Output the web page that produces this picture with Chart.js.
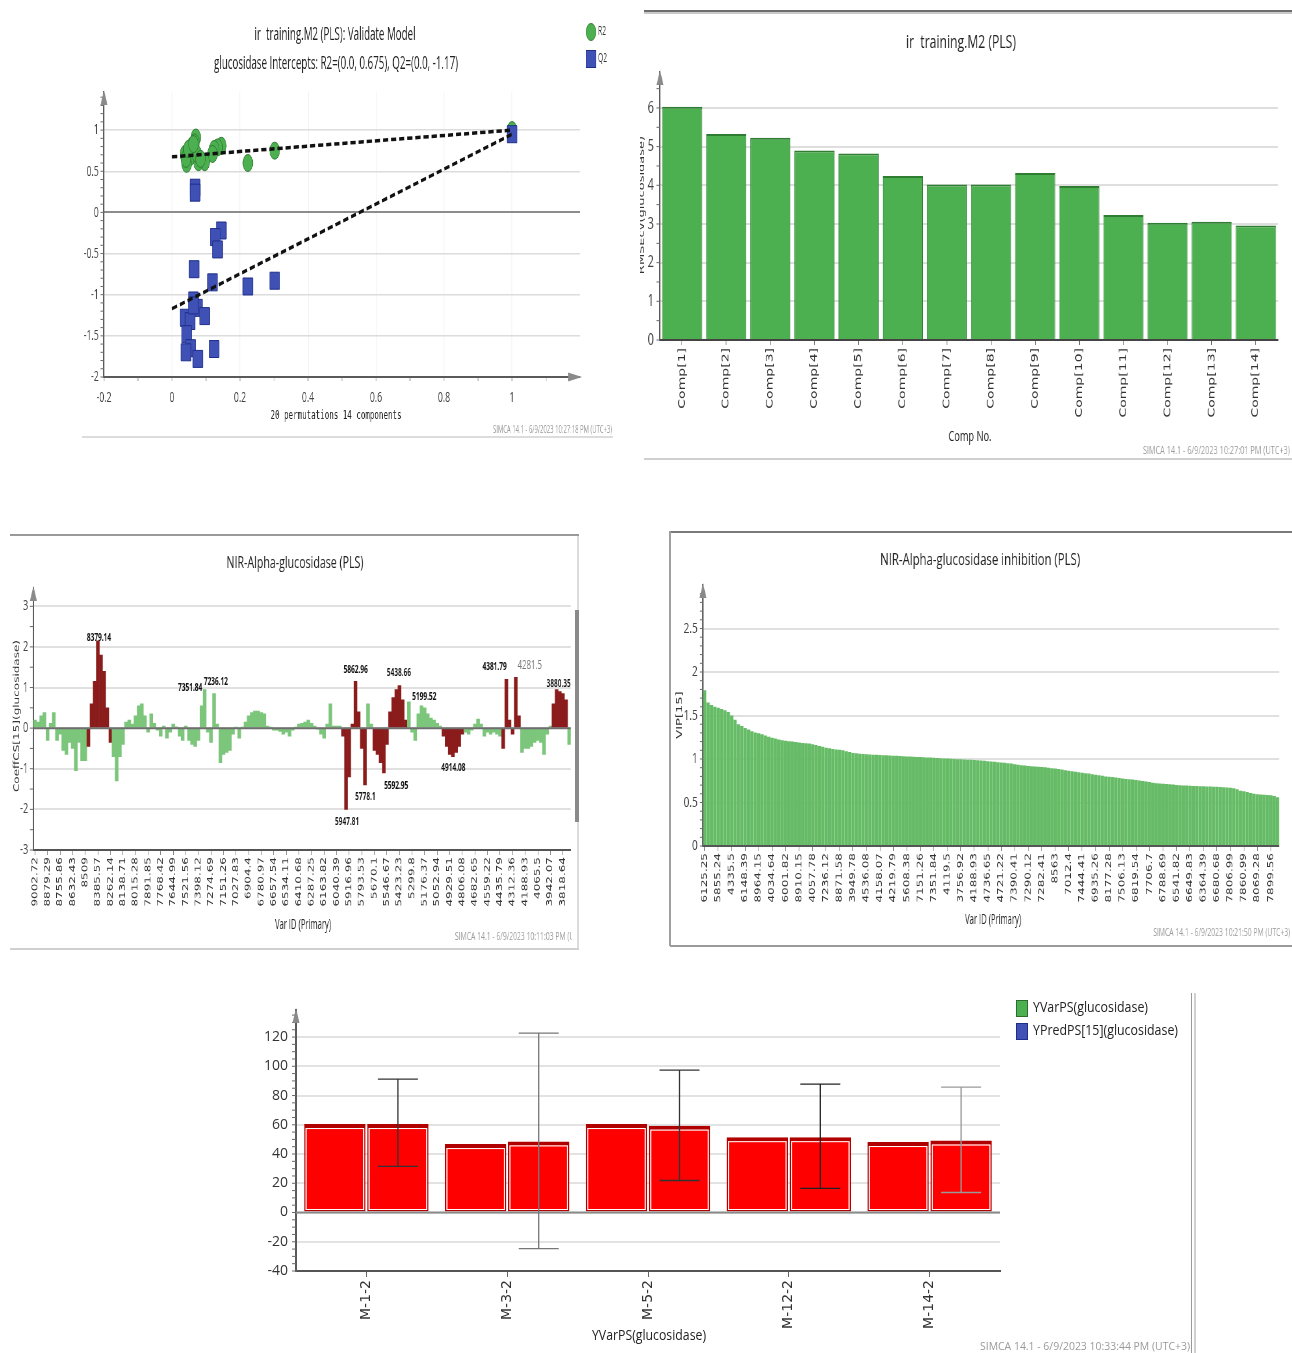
<!DOCTYPE html>
<html>
<head>
<meta charset="utf-8">
<title>PLS model diagnostics – glucosidase</title>
<script src="https://cdn.jsdelivr.net/npm/chart.js@4.4.1/dist/chart.umd.min.js"></script>
<style>
  html, body { margin: 0; padding: 0; background: #fff; }
  body { position: relative; width: 1292px; height: 1353px; overflow: hidden; }
  canvas { position: absolute; display: block; }
  .rule { position: absolute; }
</style>
</head>
<body>
<!-- window frame rules around each exported plot -->
<div class="rule" style="left:82px;top:436px;width:531px;height:2px;background:#dcdcdc"></div>
<div class="rule" style="left:644px;top:10px;width:648px;height:2px;background:#6d6d6d"></div>
<div class="rule" style="left:644px;top:12px;width:648px;height:2px;background:#c9c9c9"></div>
<div class="rule" style="left:644px;top:458px;width:648px;height:2px;background:#d0d0d0"></div>
<div class="rule" style="left:10px;top:534px;width:569px;height:2px;background:#9a9a9a"></div>
<div class="rule" style="left:577px;top:536px;width:2px;height:414px;background:#dcdcdc"></div>
<div class="rule" style="left:575px;top:610px;width:4px;height:212px;background:#8a8a8a"></div>
<div class="rule" style="left:10px;top:948px;width:569px;height:2px;background:#d0d0d0"></div>
<div class="rule" style="left:670px;top:531px;width:622px;height:2px;background:#7a7a7a"></div>
<div class="rule" style="left:669px;top:531px;width:2px;height:415px;background:#a0a0a0"></div>
<div class="rule" style="left:670px;top:945px;width:622px;height:2px;background:#9a9a9a"></div>
<div class="rule" style="left:1191px;top:993px;width:1px;height:360px;background:#9a9a9a"></div>
<div class="rule" style="left:1194px;top:993px;width:2px;height:360px;background:#d0d0d0"></div>

<canvas id="permChart"></canvas>
<canvas id="rmseChart"></canvas>
<canvas id="coeffChart"></canvas>
<canvas id="vipChart"></canvas>
<canvas id="ypredChart"></canvas>

<script>
// ---------------- permutation test (Validate Model) ----------------
const r2PermCorr = [1.0, 0.302, 0.223, 0.145, 0.134, 0.124, 0.119, 0.096, 0.070, 0.066, 0.063, 0.058, 0.053, 0.078, 0.038, 0.043, 0.041, 0.073, 0.048, 0.084, 0.063];
const r2PermVal  = [1.00, 0.75, 0.60, 0.81, 0.79, 0.77, 0.71, 0.61, 0.91, 0.85, 0.75, 0.81, 0.67, 0.61, 0.71, 0.59, 0.65, 0.71, 0.77, 0.65, 0.83];
const q2PermCorr = [1.0, 0.068, 0.068, 0.145, 0.127, 0.134, 0.065, 0.119, 0.223, 0.302, 0.063, 0.075, 0.096, 0.038, 0.053, 0.043, 0.055, 0.041, 0.076, 0.124, 0.063];
const q2PermVal  = [0.95, 0.30, 0.24, -0.22, -0.30, -0.45, -0.69, -0.85, -0.90, -0.83, -1.07, -1.16, -1.26, -1.28, -1.32, -1.48, -1.65, -1.70, -1.78, -1.66, -1.13];
const r2Intercept = 0.675;
const q2Intercept = -1.17;

// ---------------- RMSEcv per component ----------------
const compLabels = ['Comp[1]', 'Comp[2]', 'Comp[3]', 'Comp[4]', 'Comp[5]', 'Comp[6]', 'Comp[7]',
                    'Comp[8]', 'Comp[9]', 'Comp[10]', 'Comp[11]', 'Comp[12]', 'Comp[13]', 'Comp[14]'];
const rmsecv = [6.03, 5.33, 5.23, 4.90, 4.82, 4.24, 4.02, 4.02, 4.32, 3.98, 3.23, 3.03, 3.06, 2.96];

// ---------------- PLS coefficients over the NIR range ----------------
const coeffTicks = ['9002.72', '8879.29', '8755.86', '8632.43', '8509', '8385.57', '8262.14', '8138.71',
  '8015.28', '7891.85', '7768.42', '7644.99', '7521.56', '7398.12', '7274.69', '7151.26', '7027.83',
  '6904.4', '6780.97', '6657.54', '6534.11', '6410.68', '6287.25', '6163.82', '6040.39', '5916.96',
  '5793.53', '5670.1', '5546.67', '5423.23', '5299.8', '5176.37', '5052.94', '4929.51', '4806.08',
  '4682.65', '4559.22', '4435.79', '4312.36', '4188.93', '4065.5', '3942.07', '3818.64'];
const coeffValues = [
  0.2, 0.15, 0.3, 0.38, -0.3, 0.12, 0.38, -0.3, -0.15, -0.55,
  -0.65, -0.35, -0.5, -1.05, -0.35, -0.8, -0.8, -0.45, 0.6, 1.15,
  2.15, 1.8, 1.4, 0.5, -0.35, -0.7, -1.3, -0.7, -0.4, 0.15,
  0.2, 0.1, 0.3, 0.55, 0.6, 0.3, -0.1, 0.35, 0.12, -0.05,
  -0.2, 0.05, -0.25, -0.1, 0.1, 0.03, -0.2, -0.3, 0.05, -0.3,
  -0.4, -0.45, -0.3, 0.55, 0.95, -0.1, -0.35, 0.85, 0.1, -0.85,
  -0.65, -0.6, -0.55, -0.15, 0.02, -0.25, 0.02, 0.15, 0.3, 0.38,
  0.42, 0.42, 0.38, 0.35, 0.05, 0.02, -0.05, -0.05, -0.08, -0.15,
  -0.1, -0.2, -0.05, 0.02, 0.1, 0.12, 0.15, 0.2, 0.12, 0.05,
  -0.02, -0.15, -0.25, 0.1, 0.6, 0.05, 0.05, 0.05, -0.2, -2.0,
  -1.2, 0.1, 1.15, 0.4, -0.5, -1.4, 0.6, 0.1, -0.55, -0.65,
  -0.85, -1.1, -0.4, 0.4, 0.75, 0.95, 1.05, 0.7, 0.2, 0.65,
  -0.1, -0.3, 0.35, 0.55, 0.5, 0.35, 0.25, 0.2, 0.12, 0.05,
  -0.2, -0.45, -0.65, -0.7, -0.6, -0.45, -0.15, -0.1, -0.15, -0.05,
  0.1, 0.22, 0.1, -0.2, -0.1, -0.15, -0.1, -0.15, -0.2, -0.5,
  1.2, 0.2, -0.15, 1.25, 0.3, -0.6, -0.5, -0.5, -0.45, -0.35,
  -0.3, -0.35, -0.65, -0.15, 0.05, 0.6, 0.95, 0.9, 0.85, 0.7,
  -0.4];
// wavenumber bands (high, low) flagged as significant
const signifBands = [[8480, 8260], [5980, 5760], [5672, 5360], [4992, 4805], [4406, 4249], [3912, 3787]];
// labelled variables
const coeffPeakIds = ['8379.14', '7351.84', '7236.12', '5947.81', '5862.96', '5778.1', '5592.95',
                      '5438.66', '5199.52', '4914.08', '4381.79', '4281.5', '3880.35'];

// ---------------- VIP (sorted) ----------------
const vipTicks = ['6125.25', '5855.24', '4335.5', '6148.39', '8964.15', '4034.64', '6001.82', '8910.15',
  '4057.78', '7236.12', '8871.58', '3949.78', '4536.08', '4158.07', '4219.79', '5608.38', '7151.26',
  '7351.84', '4119.5', '3756.92', '4188.93', '4736.65', '4721.22', '7390.41', '7290.12', '7282.41',
  '8563', '7012.4', '7444.41', '6935.26', '8177.28', '7506.13', '6819.54', '7706.7', '6788.69',
  '6541.82', '6649.83', '6364.39', '6680.68', '7806.99', '7860.99', '8069.28', '7899.56'];
const vipValues = [
  1.79, 1.65, 1.62, 1.60, 1.59, 1.575, 1.56, 1.54, 1.50, 1.45,
  1.40, 1.38, 1.355, 1.34, 1.32, 1.305, 1.295, 1.285, 1.27, 1.255,
  1.245, 1.235, 1.225, 1.215, 1.21, 1.205, 1.20, 1.195, 1.19, 1.185,
  1.18, 1.178, 1.17, 1.16, 1.15, 1.14, 1.13, 1.125, 1.115, 1.11,
  1.105, 1.10, 1.09, 1.08, 1.07, 1.065, 1.06, 1.058, 1.055, 1.052,
  1.05, 1.048, 1.046, 1.044, 1.042, 1.04, 1.038, 1.036, 1.034, 1.032,
  1.03, 1.028, 1.026, 1.024, 1.022, 1.02, 1.018, 1.016, 1.014, 1.012,
  1.01, 1.007, 1.005, 1.003, 1.0, 0.998, 0.996, 0.994, 0.992, 0.99,
  0.988, 0.986, 0.983, 0.979, 0.975, 0.971, 0.967, 0.963, 0.96, 0.957,
  0.952, 0.947, 0.94, 0.933, 0.928, 0.925, 0.92, 0.917, 0.914, 0.912,
  0.909, 0.905, 0.90, 0.895, 0.89, 0.885, 0.878, 0.872, 0.866, 0.86,
  0.853, 0.847, 0.842, 0.837, 0.832, 0.826, 0.82, 0.814, 0.808, 0.80,
  0.796, 0.792, 0.787, 0.782, 0.776, 0.771, 0.767, 0.763, 0.758, 0.753,
  0.747, 0.741, 0.735, 0.727, 0.722, 0.718, 0.715, 0.712, 0.709, 0.706,
  0.702, 0.699, 0.696, 0.694, 0.692, 0.69, 0.689, 0.687, 0.686, 0.685,
  0.684, 0.682, 0.68, 0.678, 0.676, 0.673, 0.67, 0.665, 0.652, 0.635,
  0.628, 0.62, 0.608, 0.60, 0.596, 0.593, 0.59, 0.587, 0.583, 0.576,
  0.56];

// ---------------- observed vs predicted per sample ----------------
const sampleIds = ['M-1-2', 'M-3-2', 'M-5-2', 'M-12-2', 'M-14-2'];
const yVarPS  = [60.5, 46.8, 60.5, 51.5, 48.2];
const yPredPS = [60.5, 48.6, 59.4, 51.5, 49.2];
const yPredLow  = [31.5, -24.7, 21.9, 16.5, 13.7];
const yPredHigh = [91.2, 122.7, 97.4, 87.8, 85.7];

// ================= drawing helpers =================
const FT = '"Open Sans","Noto Sans",sans-serif';
const FV = '"DejaVu Sans",sans-serif';
const FM = '"DejaVu Sans Mono",monospace';

Chart.defaults.font.family = FT;
Chart.defaults.color = '#333';
Chart.defaults.animation = false;
Chart.defaults.events = [];
Chart.defaults.responsive = false;
Chart.defaults.plugins.legend.display = false;
Chart.defaults.plugins.tooltip.enabled = false;

const fmt = v => String(Math.round(v * 100) / 100);

// canvas is drawn at a wider bitmap and shown condensed horizontally (factor s)
function prepCanvas(id, f) {
  const c = document.getElementById(id);
  c.width = Math.round(f.w / f.s);
  c.height = f.h;
  c.style.left = f.left + 'px';
  c.style.top = f.top + 'px';
  c.style.width = f.w + 'px';
  c.style.height = f.h + 'px';
  return c;
}
// layout numbers that pin the plot area to page coordinates
function frameLayout(f, a) {
  const W = Math.round(f.w / f.s);
  const lx = x => (x - f.left) / f.s;
  return {
    padding: { left: 0, top: a.t - f.top, right: W - lx(a.r), bottom: 0 },
    yFit: sc => { sc.width = lx(a.l); },
    xFit: sc => { sc.height = f.top + f.h - a.b; }
  };
}
function makeDecor(cfg) {
  const f = cfg.frame;
  const X = x => (x - f.left) / f.s;
  const Y = y => y - f.top;
  return {
    id: 'decor',
    afterDatasetsDraw(chart) {
      const { ctx, chartArea: a } = chart;
      ctx.save();
      if (cfg.zeroLine) {
        const y0 = chart.scales.y.getPixelForValue(0);
        ctx.strokeStyle = cfg.zeroLine.color;
        ctx.lineWidth = cfg.zeroLine.width;
        ctx.beginPath(); ctx.moveTo(a.left, y0); ctx.lineTo(a.right, y0); ctx.stroke();
      }
      if (cfg.overData) cfg.overData(chart, ctx, X, Y);
      ctx.restore();
    },
    afterDraw(chart) {
      const { ctx, chartArea: a } = chart;
      ctx.save();
      (cfg.minor || []).forEach(m => {
        const sc = chart.scales[m.axis];
        ctx.strokeStyle = m.color || '#6a6a6a';
        ctx.lineWidth = m.width || 1;
        const n = Math.round((m.to - m.from) / m.step);
        for (let i = 0; i <= n; i++) {
          const p = sc.getPixelForValue(m.from + i * m.step);
          ctx.beginPath();
          if (m.axis === 'y') { ctx.moveTo(a.left, p); ctx.lineTo(a.left - m.len / f.s, p); }
          else { ctx.moveTo(p, a.bottom); ctx.lineTo(p, a.bottom + m.len); }
          ctx.stroke();
        }
      });
      ctx.fillStyle = '#8a8a8a';
      (cfg.arrows || []).forEach(dir => {
        ctx.beginPath();
        if (dir === 'y') {
          ctx.moveTo(a.left, a.top - 2);
          ctx.lineTo(a.left - 3.5 / f.s, a.top + 13);
          ctx.lineTo(a.left + 3.5 / f.s, a.top + 13);
        } else {
          ctx.moveTo(a.right + 2 / f.s, a.bottom);
          ctx.lineTo(a.right - 12 / f.s, a.bottom - 4.5);
          ctx.lineTo(a.right - 12 / f.s, a.bottom + 4.5);
        }
        ctx.closePath(); ctx.fill();
      });
      (cfg.texts || []).forEach(t => {
        ctx.save();
        if (t.clipX !== undefined) {
          ctx.beginPath(); ctx.rect(0, 0, X(t.clipX), chart.height); ctx.clip();
        }
        ctx.font = `${t.weight || 'normal'} ${t.size}px ${t.family || FT}`;
        ctx.fillStyle = t.color || '#222';
        ctx.textAlign = t.align || 'center';
        ctx.textBaseline = 'middle';
        ctx.translate(X(t.x), Y(t.y));
        if (t.rot) ctx.rotate(t.rot);
        if (t.w) ctx.fillText(t.text, 0, 0, t.rot ? t.w : t.w / f.s);
        else ctx.fillText(t.text, 0, 0);
        ctx.restore();
      });
      if (cfg.extra) cfg.extra(chart, ctx, X, Y);
      ctx.restore();
    }
  };
}
const onlyUpTo = lim => sc => { sc.ticks = sc.ticks.filter(t => t.value <= lim + 1e-9); };
const everyFourth = sc => { sc.ticks = sc.ticks.filter(t => t.value % 4 === 0); };

// ================= panel 1: permutation validation =================
{
  const f = { left: 80, top: 10, w: 540, h: 430, s: 0.58 };
  const a = { l: 104, r: 580, t: 92, b: 377 };
  const L = frameLayout(f, a);
  new Chart(prepCanvas('permChart', f), {
    type: 'scatter',
    data: {
      datasets: [
        { type: 'line', data: [{ x: 0, y: r2Intercept }, { x: r2PermCorr[0], y: r2PermVal[0] }],
          borderColor: '#111', borderWidth: 3.5, borderDash: [9, 5], pointRadius: 0, order: 0 },
        { type: 'line', data: [{ x: 0, y: q2Intercept }, { x: q2PermCorr[0], y: q2PermVal[0] }],
          borderColor: '#111', borderWidth: 3.5, borderDash: [9, 5], pointRadius: 0, order: 0 },
        { label: 'Q2', data: q2PermCorr.map((x, i) => ({ x, y: q2PermVal[i] })),
          pointStyle: 'rect', pointRadius: 12, backgroundColor: '#3f51b5', borderColor: '#1f2d8a', borderWidth: 1, order: 1 },
        { label: 'R2', data: r2PermCorr.map((x, i) => ({ x, y: r2PermVal[i] })),
          pointStyle: 'circle', pointRadius: 8.5, backgroundColor: '#4caf50', borderColor: '#2e7d32', borderWidth: 1, order: 2 }
      ]
    },
    options: {
      layout: { padding: L.padding },
      scales: {
        x: { type: 'linear', min: -0.2, max: 1.2, afterFit: L.xFit, afterBuildTicks: onlyUpTo(1),
             ticks: { stepSize: 0.2, padding: 12, font: { size: 15 }, color: '#444', callback: fmt },
             grid: { color: '#ececec', lineWidth: 1.2, drawTicks: false },
             border: { color: '#5a5a5a', width: 2 } },
        y: { min: -2, max: 1.463, afterFit: L.yFit, afterBuildTicks: onlyUpTo(1),
             ticks: { stepSize: 0.5, padding: 9, font: { size: 15 }, color: '#444', callback: fmt },
             grid: { color: c => (c.tick && Math.abs(c.tick.value) < 1e-9) ? '#8c8c8c' : '#dcdcdc',
                     lineWidth: c => (c.tick && Math.abs(c.tick.value) < 1e-9) ? 2 : 1.5, drawTicks: false },
             border: { color: '#5a5a5a', width: 2 } }
      }
    },
    plugins: [makeDecor({
      frame: f,
      arrows: ['y', 'x'],
      minor: [{ axis: 'y', from: -2, to: 1.4, step: 0.1, len: 3.5 },
              { axis: 'x', from: -0.2, to: 1.1, step: 0.1, len: 4 }],
      texts: [
        { text: 'ir  training.M2 (PLS): Validate Model', x: 335, y: 35, size: 18, w: 161 },
        { text: 'glucosidase Intercepts: R2=(0.0, 0.675), Q2=(0.0, -1.17)', x: 336, y: 64, size: 18, w: 244 },
        { text: '20 permutations 14 components', x: 336, y: 416, size: 13, family: FM, w: 131 },
        { text: 'SIMCA 14.1 - 6/9/2023 10:27:18 PM (UTC+3)', x: 612, y: 430, size: 10.5, align: 'right', color: '#9a9a9a', w: 119 },
        { text: 'R2', x: 598, y: 32, size: 12, align: 'left', w: 8, color: '#333' },
        { text: 'Q2', x: 598, y: 59, size: 12, align: 'left', w: 9, color: '#333' }
      ],
      extra(chart, ctx, X, Y) {
        ctx.fillStyle = '#4caf50'; ctx.strokeStyle = '#2e7d32'; ctx.lineWidth = 1;
        ctx.beginPath(); ctx.arc(X(591), Y(32), 8.5, 0, Math.PI * 2); ctx.fill(); ctx.stroke();
        ctx.fillStyle = '#3f51b5'; ctx.strokeStyle = '#1f2d8a';
        ctx.fillRect(X(591) - 8.5, Y(59) - 8.5, 17, 17); ctx.strokeRect(X(591) - 8.5, Y(59) - 8.5, 17, 17);
      }
    })]
  });
}

// ================= panel 2: RMSEcv bars =================
{
  const f = { left: 640, top: 0, w: 652, h: 465, s: 0.68 };
  const a = { l: 660, r: 1278, t: 72, b: 340 };
  const L = frameLayout(f, a);
  new Chart(prepCanvas('rmseChart', f), {
    type: 'bar',
    data: {
      labels: compLabels,
      datasets: [{ data: rmsecv, backgroundColor: '#4caf50', borderColor: '#2f7d33',
                   borderWidth: { top: 2, left: 1, right: 1, bottom: 0 }, borderSkipped: 'start',
                   barPercentage: 0.91, categoryPercentage: 1 }]
    },
    options: {
      layout: { padding: L.padding },
      scales: {
        x: { afterFit: L.xFit,
             ticks: { minRotation: 90, maxRotation: 90, autoSkip: false, padding: 3, font: { family: FV, size: 14 }, color: '#333' },
             grid: { offset: false, drawOnChartArea: false, drawTicks: true, tickLength: 5, color: '#666' },
             border: { color: '#444', width: 2 } },
        y: { min: 0, max: 6.93, afterFit: L.yFit, afterBuildTicks: onlyUpTo(6),
             ticks: { stepSize: 1, padding: 9, font: { size: 16 }, color: '#444', callback: fmt },
             grid: { color: '#dedede', lineWidth: 2, drawTicks: false },
             border: { color: '#5a5a5a', width: 2 } }
      }
    },
    plugins: [makeDecor({
      frame: f,
      arrows: ['y'],
      minor: [{ axis: 'y', from: 0, to: 6.5, step: 0.5, len: 3.5 }],
      texts: [
        { text: 'ir  training.M2 (PLS)', x: 961, y: 43, size: 19, w: 110 },
        { text: 'Comp No.', x: 970, y: 437, size: 15, w: 43 },
        { text: 'RMSEcv(glucosidase)', x: 641.5, y: 205, size: 13, family: FV, rot: -Math.PI / 2, color: '#333' },
        { text: 'SIMCA 14.1 - 6/9/2023 10:27:01 PM (UTC+3)', x: 1290, y: 451, size: 11, align: 'right', color: '#9a9a9a', w: 147 }
      ]
    })]
  });
}

// ================= panel 3: coefficient spectrum =================
{
  const f = { left: 10, top: 533, w: 570, h: 419, s: 0.65 };
  const a = { l: 33.4, r: 570.8, t: 588, b: 850 };
  const L = frameLayout(f, a);
  const coeffStart = parseFloat(coeffTicks[0]);
  const coeffStep = (parseFloat(coeffTicks[0]) - parseFloat(coeffTicks[1])) / 4;
  const labels = coeffValues.map((_, k) => (k % 4 === 0 && coeffTicks[k / 4]) ? coeffTicks[k / 4] : '');
  const colors = coeffValues.map((_, k) => {
    const wn = coeffStart - k * coeffStep;
    return signifBands.some(([hi, lo]) => wn <= hi && wn >= lo) ? '#8b1c1c' : '#7cc67c';
  });
  // label placement around each marked variable (page px)
  const peakOffsets = {
    '8379.14': [0.5, -3], '7351.84': [-13, -1], '7236.12': [1, -11], '5947.81': [1, 13],
    '5862.96': [1, -11], '5778.1': [2, 12], '5592.95': [14, 13], '5438.66': [1, -12],
    '5199.52': [2, -9], '4914.08': [2, 12], '4381.79': [-11, -12], '4281.5': [14, -12], '3880.35': [2, -5]
  };
  new Chart(prepCanvas('coeffChart', f), {
    type: 'bar',
    data: {
      labels,
      datasets: [{ data: coeffValues, backgroundColor: colors, borderWidth: 0,
                   barPercentage: 1, categoryPercentage: 1 }]
    },
    options: {
      layout: { padding: L.padding },
      scales: {
        x: { afterFit: L.xFit, afterBuildTicks: everyFourth,
             ticks: { minRotation: 90, maxRotation: 90, autoSkip: false, padding: 2, font: { family: FV, size: 12 }, color: '#333' },
             grid: { offset: false, drawOnChartArea: false, drawTicks: true, tickLength: 5, color: '#888' },
             border: { color: '#555', width: 2 } },
        y: { min: -3, max: 3.45, afterFit: L.yFit, afterBuildTicks: onlyUpTo(3),
             ticks: { stepSize: 1, padding: 8, font: { size: 14 }, color: '#444', callback: fmt },
             grid: { color: '#e0e0e0', lineWidth: 2, drawTicks: false },
             border: { color: '#5a5a5a', width: 2 } }
      }
    },
    plugins: [makeDecor({
      frame: f,
      arrows: ['y'],
      zeroLine: { color: '#6e6e6e', width: 2 },
      minor: [{ axis: 'y', from: -3, to: 3, step: 0.5, len: 3.5 }],
      texts: [
        { text: 'NIR-Alpha-glucosidase (PLS)', x: 295, y: 563, size: 17, w: 137 },
        { text: 'CoeffCS[15](glucosidase)', x: 17, y: 716, size: 12, family: FV, rot: -Math.PI / 2, color: '#333' },
        { text: 'Var ID (Primary)', x: 303, y: 925, size: 14, w: 56 },
        { text: 'SIMCA 14.1 - 6/9/2023 10:11:03 PM (UTC+3)', x: 455, y: 937, size: 10.5, align: 'left', color: '#9a9a9a', w: 140, clipX: 572 }
      ],
      overData(chart, ctx, X, Y) {
        const xs = chart.scales.x, ys = chart.scales.y;
        coeffPeakIds.forEach(id => {
          const kf = (coeffStart - parseFloat(id)) / coeffStep;
          const k0 = Math.floor(kf), k1 = Math.ceil(kf);
          const v = Math.abs(coeffValues[k1]) > Math.abs(coeffValues[k0]) ? coeffValues[k1] : coeffValues[k0];
          const px = xs.getPixelForValue(k0) + (xs.getPixelForValue(k1) - xs.getPixelForValue(k0)) * (kf - k0);
          const py = ys.getPixelForValue(v);
          const off = peakOffsets[id];
          const plain = id === '4281.5';
          ctx.font = plain ? `normal 12px ${FT}` : `bold 10px ${FT}`;
          ctx.fillStyle = plain ? '#777' : '#111';
          ctx.textAlign = 'center';
          ctx.textBaseline = 'middle';
          ctx.fillText(id, px + off[0] / f.s, py + off[1]);
        });
      }
    })]
  });
}

// ================= panel 4: VIP =================
{
  const f = { left: 670, top: 530, w: 622, h: 420, s: 0.67 };
  const a = { l: 703, r: 1279, t: 585, b: 846 };
  const L = frameLayout(f, a);
  const labels = vipValues.map((_, k) => (k % 4 === 0 && vipTicks[k / 4]) ? vipTicks[k / 4] : '');
  new Chart(prepCanvas('vipChart', f), {
    type: 'bar',
    data: {
      labels,
      datasets: [{ data: vipValues, backgroundColor: '#66bb66', borderWidth: 0,
                   barPercentage: 0.98, categoryPercentage: 1 }]
    },
    options: {
      layout: { padding: L.padding },
      scales: {
        x: { afterFit: L.xFit, afterBuildTicks: everyFourth,
             ticks: { minRotation: 90, maxRotation: 90, autoSkip: false, padding: 2, font: { family: FV, size: 12 }, color: '#333' },
             grid: { offset: false, drawOnChartArea: false, drawTicks: true, tickLength: 5, color: '#888' },
             border: { color: '#555', width: 2 } },
        y: { min: 0, max: 3, afterFit: L.yFit, afterBuildTicks: onlyUpTo(2.5),
             ticks: { stepSize: 0.5, padding: 8, font: { size: 15 }, color: '#444', callback: fmt },
             grid: { color: '#e0e0e0', lineWidth: 2, drawTicks: false },
             border: { color: '#5a5a5a', width: 2 } }
      }
    },
    plugins: [makeDecor({
      frame: f,
      arrows: ['y'],
      minor: [{ axis: 'y', from: 0, to: 2.9, step: 0.1, len: 3 }],
      texts: [
        { text: 'NIR-Alpha-glucosidase inhibition (PLS)', x: 980, y: 560, size: 17, w: 200 },
        { text: 'VIP[15]', x: 680, y: 715, size: 13, family: FV, rot: -Math.PI / 2, color: '#333' },
        { text: 'Var ID (Primary)', x: 993, y: 920, size: 14, w: 56 },
        { text: 'SIMCA 14.1 - 6/9/2023 10:21:50 PM (UTC+3)', x: 1290, y: 933, size: 10.5, align: 'right', color: '#9a9a9a', w: 137 }
      ]
    })]
  });
}

// ================= panel 5: YVarPS / YPredPS per sample =================
{
  const f = { left: 250, top: 990, w: 950, h: 363, s: 1 };
  const a = { l: 296, r: 1000, t: 1010, b: 1271 };
  const L = frameLayout(f, a);
  const barStyle = { backgroundColor: '#ff0000', borderColor: '#b00000',
                     borderWidth: { top: 4, left: 1.5, right: 1.5, bottom: 1.5 }, borderSkipped: false,
                     barPercentage: 0.975, categoryPercentage: 0.895 };
  const errColors = ['#333', '#777', '#333', '#222', '#999'];
  new Chart(prepCanvas('ypredChart', f), {
    type: 'bar',
    data: {
      labels: sampleIds,
      datasets: [
        Object.assign({ label: 'YVarPS(glucosidase)', data: yVarPS }, barStyle),
        Object.assign({ label: 'YPredPS[15](glucosidase)', data: yPredPS }, barStyle)
      ]
    },
    options: {
      layout: { padding: L.padding },
      scales: {
        x: { afterFit: L.xFit,
             ticks: { minRotation: 90, maxRotation: 90, autoSkip: false, padding: 3, font: { family: FV, size: 14 }, color: '#333' },
             grid: { offset: false, drawOnChartArea: false, drawTicks: true, tickLength: 6, color: '#666' },
             border: { color: '#555', width: 2 } },
        y: { min: -40, max: 138.5, afterFit: L.yFit, afterBuildTicks: onlyUpTo(120),
             ticks: { stepSize: 20, padding: 8, font: { size: 14 }, color: '#333', callback: fmt },
             grid: { color: '#e2e2e2', lineWidth: 2, drawTicks: false },
             border: { color: '#5a5a5a', width: 2 } }
      }
    },
    plugins: [makeDecor({
      frame: f,
      arrows: ['y'],
      zeroLine: { color: '#8a8a8a', width: 2 },
      minor: [{ axis: 'y', from: -40, to: 135, step: 5, len: 4 }],
      texts: [
        { text: 'YVarPS(glucosidase)', x: 649, y: 1336, size: 14, w: 114 },
        { text: 'YVarPS(glucosidase)', x: 1033, y: 1008, size: 14, align: 'left', w: 115 },
        { text: 'YPredPS[15](glucosidase)', x: 1033, y: 1031, size: 14, align: 'left', w: 145 },
        { text: 'SIMCA 14.1 - 6/9/2023 10:33:44 PM (UTC+3)', x: 1190, y: 1347, size: 11.5, align: 'right', color: '#9a9a9a', w: 210 }
      ],
      overData(chart, ctx) {
        // white inner outline of each bar
        ctx.strokeStyle = '#ffffff'; ctx.lineWidth = 1;
        [0, 1].forEach(d => chart.getDatasetMeta(d).data.forEach(el => {
          const p = el.getProps(['x', 'y', 'base', 'width'], true);
          ctx.strokeRect(p.x - p.width / 2 + 2, p.y + 4.5, p.width - 4, p.base - p.y - 6.5);
        }));
        // prediction intervals on the predicted bars
        const ys = chart.scales.y;
        chart.getDatasetMeta(1).data.forEach((el, i) => {
          const x = el.x, lo = ys.getPixelForValue(yPredLow[i]), hi = ys.getPixelForValue(yPredHigh[i]);
          ctx.strokeStyle = errColors[i]; ctx.lineWidth = 1.3;
          ctx.beginPath();
          ctx.moveTo(x, lo); ctx.lineTo(x, hi);
          ctx.moveTo(x - 20, lo); ctx.lineTo(x + 20, lo);
          ctx.moveTo(x - 20, hi); ctx.lineTo(x + 20, hi);
          ctx.stroke();
        });
      },
      extra(chart, ctx, X, Y) {
        ctx.lineWidth = 1;
        ctx.fillStyle = '#4caf50'; ctx.strokeStyle = '#2e6b30';
        ctx.fillRect(X(1016), Y(1000), 12, 17); ctx.strokeRect(X(1016) + 0.5, Y(1000) + 0.5, 11, 16);
        ctx.fillStyle = '#3f51b5'; ctx.strokeStyle = '#1f2d8a';
        ctx.fillRect(X(1016), Y(1023), 12, 17); ctx.strokeRect(X(1016) + 0.5, Y(1023) + 0.5, 11, 16);
      }
    })]
  });
}
</script>
</body>
</html>
